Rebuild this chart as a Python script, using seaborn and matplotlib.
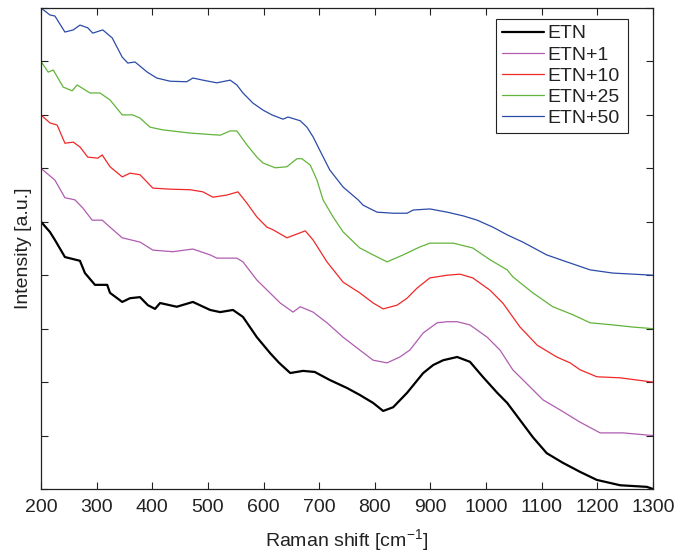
import matplotlib
matplotlib.use("Agg")
import matplotlib.pyplot as plt
import seaborn as sns
import pandas as pd

# Raman spectra, stacked with one intensity unit between successive samples
etn_x = [200, 216, 225, 243, 270, 279, 297, 319, 324, 346, 360, 378, 392, 405, 414,
         444, 473, 504, 522, 545, 563, 588, 612, 628, 648, 671, 692, 719, 750, 773,
         797, 815, 833, 858, 887, 905, 923, 948, 971, 994, 1020, 1038, 1061, 1084,
         1109, 1138, 1169, 1199, 1241, 1289, 1300]
etn_y = [5.00, 4.81, 4.66, 4.34, 4.27, 4.04, 3.82, 3.82, 3.67, 3.50, 3.57, 3.59, 3.44,
         3.37, 3.48, 3.41, 3.50, 3.35, 3.31, 3.35, 3.22, 2.84, 2.54, 2.36, 2.17, 2.21,
         2.19, 2.04, 1.89, 1.76, 1.61, 1.46, 1.53, 1.80, 2.17, 2.32, 2.41, 2.47, 2.38,
         2.10, 1.80, 1.61, 1.29, 0.97, 0.67, 0.49, 0.32, 0.17, 0.07, 0.04, 0.00]

etn1_x = [200, 225, 243, 261, 275, 292, 310, 324, 346, 378, 401, 437, 473, 504, 516,
          552, 563, 588, 630, 653, 666, 689, 714, 743, 773, 797, 822, 845, 863, 887,
          912, 930, 948, 971, 1002, 1025, 1048, 1079, 1102, 1133, 1169, 1205, 1246, 1300]
etn1_y = [6.00, 5.78, 5.45, 5.41, 5.26, 5.03, 5.03, 4.90, 4.70, 4.62, 4.47, 4.44, 4.49,
          4.38, 4.32, 4.32, 4.25, 3.91, 3.48, 3.31, 3.41, 3.31, 3.11, 2.84, 2.60, 2.41,
          2.36, 2.47, 2.60, 2.92, 3.11, 3.13, 3.13, 3.07, 2.84, 2.60, 2.23, 1.91, 1.67,
          1.48, 1.25, 1.05, 1.05, 1.00]

etn10_x = [200, 216, 229, 243, 258, 270, 284, 302, 310, 324, 346, 360, 378, 401, 432,
           468, 491, 509, 534, 554, 570, 588, 606, 617, 642, 675, 689, 714, 743, 773,
           797, 815, 840, 858, 876, 899, 930, 953, 976, 1007, 1030, 1061, 1092, 1127,
           1151, 1169, 1199, 1241, 1300]
etn10_y = [7.00, 6.85, 6.81, 6.47, 6.49, 6.40, 6.21, 6.19, 6.25, 6.03, 5.84, 5.91, 5.88,
           5.63, 5.61, 5.60, 5.56, 5.46, 5.50, 5.56, 5.35, 5.09, 4.90, 4.85, 4.70, 4.83,
           4.66, 4.25, 3.87, 3.67, 3.48, 3.37, 3.44, 3.57, 3.76, 3.95, 4.00, 4.02, 3.95,
           3.72, 3.48, 3.03, 2.69, 2.47, 2.36, 2.23, 2.10, 2.08, 2.00]

etn25_x = [200, 213, 222, 240, 256, 265, 288, 306, 324, 346, 365, 378, 396, 419, 468,
           522, 540, 552, 570, 588, 599, 621, 642, 660, 669, 684, 696, 707, 725, 743,
           773, 797, 822, 851, 881, 899, 923, 941, 976, 1007, 1038, 1048, 1084, 1120,
           1156, 1187, 1228, 1264, 1300]
etn25_y = [8.00, 7.80, 7.84, 7.52, 7.45, 7.56, 7.41, 7.41, 7.28, 7.00, 7.00, 6.94, 6.77,
           6.72, 6.66, 6.62, 6.70, 6.70, 6.44, 6.21, 6.10, 6.01, 6.03, 6.18, 6.18, 6.06,
           5.78, 5.41, 5.09, 4.81, 4.51, 4.38, 4.25, 4.38, 4.53, 4.60, 4.60, 4.60, 4.51,
           4.29, 4.10, 3.97, 3.67, 3.41, 3.26, 3.11, 3.07, 3.03, 3.00]

etn50_x = [200, 216, 225, 243, 258, 270, 284, 293, 311, 328, 346, 356, 369, 391, 408,
           432, 462, 473, 491, 516, 540, 552, 563, 581, 599, 615, 635, 644, 666, 678,
           689, 701, 719, 743, 770, 779, 804, 833, 858, 869, 899, 930, 959, 984, 1012,
           1039, 1066, 1109, 1145, 1187, 1228, 1264, 1300]
etn50_y = [9.00, 8.87, 8.85, 8.55, 8.59, 8.68, 8.63, 8.53, 8.59, 8.44, 8.08, 7.97, 7.99,
           7.80, 7.69, 7.63, 7.62, 7.69, 7.65, 7.60, 7.65, 7.56, 7.41, 7.22, 7.09, 7.00,
           6.92, 6.96, 6.89, 6.77, 6.59, 6.34, 5.97, 5.65, 5.41, 5.31, 5.18, 5.16, 5.16,
           5.22, 5.24, 5.18, 5.11, 5.03, 4.90, 4.75, 4.62, 4.38, 4.25, 4.10, 4.04, 4.02,
           4.00]

labels = ["ETN", "ETN+1", "ETN+10", "ETN+25", "ETN+50"]
xs = [etn_x, etn1_x, etn10_x, etn25_x, etn50_x]
ys = [etn_y, etn1_y, etn10_y, etn25_y, etn50_y]
colors = ["#000000", "#B05CB0", "#F02828", "#62B43A", "#2B4BA8"]
widths = [1.6, 0.9, 0.9, 0.9, 0.9]

x_ticks = list(range(200, 1301, 100))
y_ticks = list(range(0, 10))

sns.set_theme(style="ticks")
plt.rcParams["font.family"] = ["Liberation Sans", "DejaVu Sans"]
plt.rcParams["mathtext.fontset"] = "custom"
plt.rcParams["mathtext.rm"] = "Liberation Sans"
plt.rcParams["mathtext.it"] = "Liberation Sans"

FS = 14
fig = plt.figure(figsize=(6.8, 5.56), dpi=100)
ax = fig.add_axes([41 / 680, 67 / 556, 612 / 680, 481 / 556])

for lab, x, y, c, lw in zip(labels, xs, ys, colors, widths):
    df = pd.DataFrame({"shift": x, "intensity": y})
    sns.lineplot(data=df, x="shift", y="intensity", ax=ax, color=c, lw=lw,
                 label=lab, sort=False, estimator=None)

ax.set_xlim(200, 1300)
ax.set_ylim(0, 9)
ax.set_xticks(x_ticks)
ax.set_yticks(y_ticks)
ax.set_yticklabels([])
ax.tick_params(direction="in", length=5, width=0.8, color="#222222",
               top=True, right=True, labelsize=FS, colors="#222222")
ax.tick_params(axis="x", pad=7)
for s in ax.spines.values():
    s.set_visible(True)
    s.set_linewidth(0.9)
    s.set_color("#222222")

ax.set_xlabel("Raman shift [cm$^{-1}$]", fontsize=FS, color="#222222", labelpad=8)
ax.set_ylabel("Intensity [a.u.]", fontsize=FS, color="#222222", labelpad=3)

# legend box spans a fixed width; text stays left-aligned inside it
leg = ax.legend(loc="upper left", bbox_to_anchor=(0.7435, 0.5, 0.2157, 0.4771),
                mode="expand", borderaxespad=0,
                fontsize=FS, frameon=True, fancybox=False, framealpha=1,
                handlelength=2.15, handletextpad=0.2, labelspacing=0.18,
                borderpad=0.3)
leg.get_frame().set_edgecolor("#222222")
leg.get_frame().set_linewidth(0.8)
for t in leg.get_texts():
    t.set_color("#222222")

fig.savefig("out.png", dpi=100)
